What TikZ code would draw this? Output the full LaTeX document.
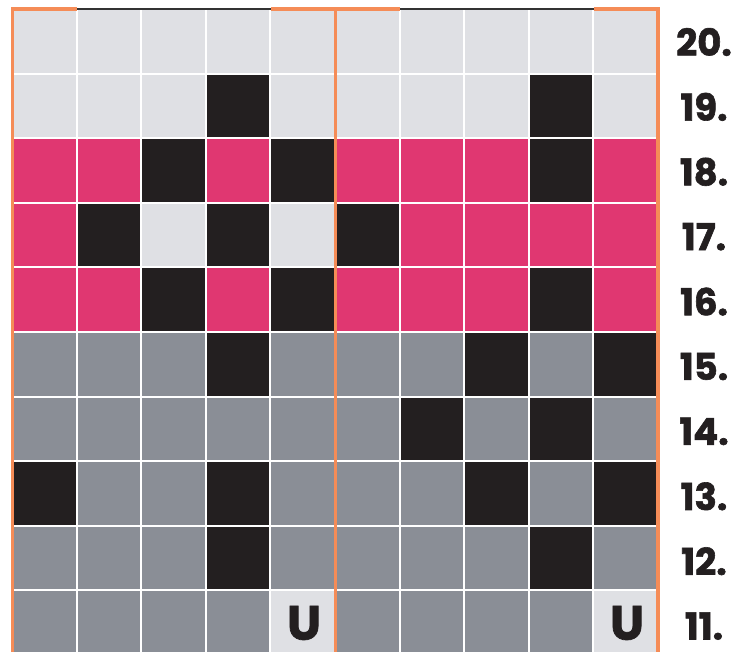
\documentclass[tikz,border=0pt]{standalone}
\usepackage{fontspec}
\setmainfont{Poppins}
\newfontfamily\heavyfont{Poppins}[BoldFeatures={FakeBold=1.6}]
\definecolor{cL}{HTML}{DFE0E4}
\definecolor{cU}{HTML}{DFE0E4}
\definecolor{cP}{HTML}{E03771}
\definecolor{cB}{HTML}{231F20}
\definecolor{cG}{HTML}{8A8E96}
\definecolor{cO}{HTML}{F58C57}
\definecolor{cT}{HTML}{333333}
\tikzset{
  rowlabel/.style={font=\heavyfont\bfseries\fontsize{37}{37}\selectfont, text=cB, anchor=center, inner sep=0pt},
  ulabel/.style={font=\heavyfont\bfseries\fontsize{48}{48}\selectfont, text=cB, anchor=center, inner sep=0pt},
  orangeline/.style={draw=cO, line width=3.5pt},
}
\begin{document}
\begin{tikzpicture}[x=1pt,y=-1pt]
\useasboundingbox (0,0) rectangle (747,652);
\fill[white] (0,0) rectangle (747,652);
\def\cw{64.6}
\foreach \row [count=\j from 0] in {
 {L,L,L,L,L,L,L,L,L,L},
 {L,L,L,B,L,L,L,L,B,L},
 {P,P,B,P,B,P,P,P,B,P},
 {P,B,L,B,L,B,P,P,P,P},
 {P,P,B,P,B,P,P,P,B,P},
 {G,G,G,B,G,G,G,B,G,B},
 {G,G,G,G,G,G,B,G,B,G},
 {B,G,G,B,G,G,G,B,G,B},
 {G,G,G,B,G,G,G,G,B,G},
 {G,G,G,G,U,G,G,G,G,U}} {
  \foreach \c [count=\i from 0] in \row {
    \fill[c\c] ({12+\i*\cw+1},{9+\j*\cw+1}) rectangle ({12+(\i+1)*\cw-1},{9+(\j+1)*\cw-1});
  }
}
% U marks
\node[ulabel] (u1) at (304,623) {U};
\node[ulabel] (u2) at (627,623) {U};
% top border
\draw[cT, line width=2pt] (12,9) -- (658,9);
\draw[orangeline] (11,9) -- (77,9);
\draw[orangeline] (271,9) -- (400,9);
\draw[orangeline] (594,9) -- (659.5,9);
% vertical orange lines
\draw[orangeline] (12.5,8) -- (12.5,652);
\draw[orangeline] (335.5,8) -- (335.5,652);
\draw[orangeline] (658,8) -- (658,652);
% row labels
\foreach \n [count=\k from 0] in {20,19,18,17,16,15,14,13,12,11} {
  \node[rowlabel] (l\n) at (704,{42+\k*64.9}) {\n.};
}
\end{tikzpicture}
\end{document}
